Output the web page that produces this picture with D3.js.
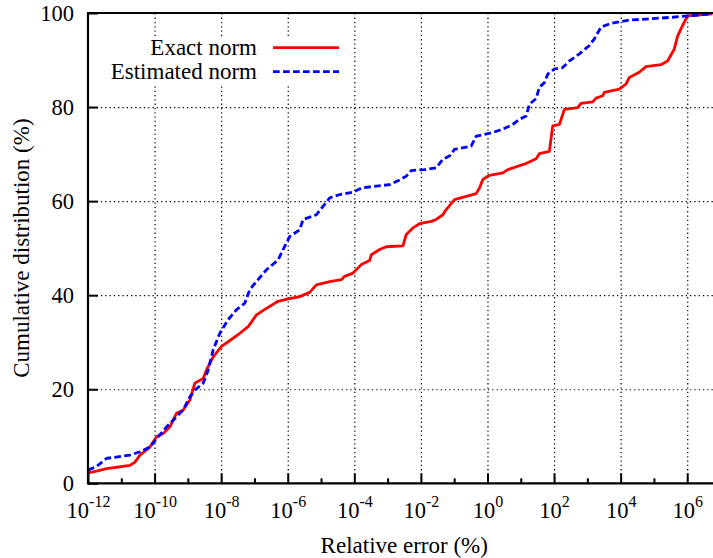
<!DOCTYPE html>
<html>
<head>
<meta charset="utf-8">
<script src="https://cdn.jsdelivr.net/npm/d3@7"></script>
<style>
  body { margin: 0; background: #fff; }
  svg text { font-family: "Liberation Serif", "Times New Roman", serif; fill: #000; }
</style>
</head>
<body>
<div id="cdf-chart"></div>
<script>
// relative error (log10 of %) and cumulative distribution (%)
const exactLogErr = [-12.00, -11.74, -11.44, -10.74, -10.59, -10.44, -10.14, -9.94, -9.74, -9.54,
  -9.34, -9.14, -8.94, -8.79, -8.54, -8.44, -8.24, -7.99, -7.79, -7.44,
  -7.19, -6.94, -6.64, -6.29, -5.99, -5.64, -5.34, -5.14, -4.74, -4.39,
  -4.29, -4.04, -3.79, -3.54, -3.49, -3.24, -3.04, -2.54, -2.44, -2.24,
  -2.04, -1.69, -1.54, -1.34, -1.24, -0.99, -0.64, -0.34, -0.24, -0.14,
  0.06, 0.46, 0.61, 1.16, 1.46, 1.56, 1.86, 1.96, 2.16, 2.31,
  2.71, 2.81, 3.16, 3.26, 3.46, 3.51, 3.96, 4.16, 4.26, 4.56,
  4.76, 5.21, 5.41, 5.61, 5.71, 5.86, 6.01, 6.75];
const exactCdf = [2.2, 2.6, 3.1, 3.8, 4.5, 6.0, 7.7, 9.9, 10.6, 12.0,
  14.9, 15.6, 17.7, 21.3, 22.3, 24.1, 26.9, 29.1, 30.1, 31.9,
  33.3, 35.8, 37.2, 38.7, 39.2, 39.7, 40.6, 42.2, 42.9, 43.3,
  44.0, 44.7, 46.5, 47.4, 48.6, 49.7, 50.3, 50.5, 52.9, 54.3,
  55.2, 55.7, 56.1, 57.1, 58.2, 60.3, 61.0, 61.6, 62.8, 64.6,
  65.5, 66.0, 66.7, 68.0, 69.0, 70.1, 70.6, 76.0, 76.3, 79.5,
  79.9, 80.8, 81.1, 81.9, 82.4, 83.1, 83.8, 84.9, 86.3, 87.4,
  88.6, 89.0, 89.8, 92.3, 95.1, 97.3, 99.4, 99.8];

const estLogErr = [-12.00, -11.74, -11.44, -10.74, -10.44, -10.14, -9.89, -9.64, -9.39, -9.14,
  -8.94, -8.79, -8.54, -8.39, -8.24, -8.04, -7.79, -7.54, -7.29, -7.14,
  -6.94, -6.64, -6.29, -6.14, -5.94, -5.64, -5.54, -5.14, -4.94, -4.74,
  -4.44, -4.04, -3.79, -3.34, -2.94, -2.64, -2.44, -2.29, -1.89, -1.54,
  -1.34, -1.14, -0.99, -0.49, -0.34, 0.16, 0.46, 0.76, 0.96, 1.16,
  1.26, 1.46, 1.56, 1.71, 1.81, 2.01, 2.26, 2.46, 2.76, 3.06,
  3.21, 3.41, 3.71, 4.01, 4.26, 4.76, 5.56, 6.01, 6.75];
const estCdf = [2.8, 3.6, 5.3, 6.0, 6.7, 7.7, 9.9, 12.0, 13.8, 15.6,
  18.4, 19.8, 21.3, 24.1, 28.4, 31.9, 34.8, 36.9, 38.3, 41.2,
  42.9, 45.4, 47.5, 49.7, 52.5, 53.9, 56.1, 57.1, 58.9, 60.7,
  61.4, 61.9, 62.8, 63.2, 63.5, 64.5, 65.3, 66.5, 66.7, 67.1,
  68.9, 69.6, 71.0, 71.7, 73.8, 74.6, 75.3, 76.3, 77.4, 78.1,
  80.6, 81.8, 84.2, 85.2, 87.0, 88.1, 88.4, 89.8, 91.3, 93.1,
  94.5, 97.0, 97.8, 98.2, 98.5, 98.7, 99.1, 99.4, 99.8];

const seriesNames = ["Exact norm", "Estimated norm"];
const majorExps = [-12, -10, -8, -6, -4, -2, 0, 2, 4, 6];
const minorExps = [-11, -9, -7, -5, -3, -1, 1, 3, 5];
const yTicks = [0, 20, 40, 60, 80, 100];

// set dimensions and margins
const margin = { top: 13, left: 88 };
const width = 19 * 33.29;      // ten to the -12 .. ten to the 7, right part cut off by the window
const height = 470.3;
const serif = "Liberation Serif, Times New Roman, serif";

const svg = d3.select("#cdf-chart")
  .append("svg")
    .attr("width", 713)
    .attr("height", 558)
    .attr("font-family", serif)
  .append("g")
    .attr("transform", "translate(" + margin.left + "," + margin.top + ")");

const x = d3.scaleLog().domain([1e-12, 1e7]).range([0, width]);
const y = d3.scaleLinear().domain([0, 100]).range([height, 0]);

const exactData = exactLogErr.map((e, i) => ({ err: Math.pow(10, e), cdf: exactCdf[i] }));
const estData = estLogErr.map((e, i) => ({ err: Math.pow(10, e), cdf: estCdf[i] }));

// dotted grid
svg.append("g")
  .attr("transform", "translate(0," + height + ")")
  .call(d3.axisBottom(x)
    .tickValues(majorExps.slice(1).map(e => Math.pow(10, e)))
    .tickSize(-height).tickFormat(""))
  .call(g => g.select(".domain").remove())
  .selectAll("line")
    .attr("stroke", "#000")
    .attr("stroke-width", 1.2)
    .attr("stroke-dasharray", "1.3,3");

svg.append("g")
  .call(d3.axisLeft(y)
    .tickValues(yTicks.slice(1, -1))
    .tickSize(-width).tickFormat(""))
  .call(g => g.select(".domain").remove())
  .selectAll("line")
    .attr("stroke", "#000")
    .attr("stroke-width", 1.2)
    .attr("stroke-dasharray", "1.3,3");

// curves
const line = d3.line()
  .x(d => x(d.err))
  .y(d => y(d.cdf));

svg.append("path")
  .datum(exactData)
  .attr("fill", "none")
  .attr("stroke", "#ff0000")
  .attr("stroke-width", 2.8)
  .attr("stroke-linejoin", "round")
  .attr("d", line);

svg.append("path")
  .datum(estData)
  .attr("fill", "none")
  .attr("stroke", "#0000ff")
  .attr("stroke-width", 2.8)
  .attr("stroke-dasharray", "6.7,3.3")
  .attr("d", line);

// x axis: major and minor ticks inside
const xAxis = svg.append("g")
  .attr("transform", "translate(0," + height + ")")
  .call(d3.axisBottom(x)
    .tickValues(majorExps.map(e => Math.pow(10, e)))
    .tickSize(-10).tickSizeOuter(0).tickFormat(""));
xAxis.select(".domain").remove();
xAxis.selectAll("line").attr("stroke-width", 2);

xAxis.selectAll(".tick").each(function(d) {
  const t = d3.select(this).append("text")
    .attr("y", 34.4)
    .attr("text-anchor", "middle")
    .attr("font-family", serif)
    .attr("font-size", "22.5px");
  t.append("tspan").text("10");
  t.append("tspan")
    .attr("dy", -11)
    .attr("font-size", "16px")
    .text(Math.round(Math.log10(d)));
});

svg.append("g")
  .attr("transform", "translate(0," + height + ")")
  .call(d3.axisBottom(x)
    .tickValues(minorExps.map(e => Math.pow(10, e)))
    .tickSize(-5).tickSizeOuter(0).tickFormat(""))
  .call(g => g.select(".domain").remove())
  .selectAll("line").attr("stroke-width", 2);

// y axis
const yAxis = svg.append("g")
  .call(d3.axisLeft(y)
    .tickValues(yTicks)
    .tickSize(-10).tickSizeOuter(0).tickPadding(14));
yAxis.select(".domain").remove();
yAxis.selectAll("line").attr("stroke-width", 2);
yAxis.selectAll("text")
  .attr("font-family", serif)
  .attr("font-size", "22.5px")
  .attr("fill", "#000");

// frame (left, bottom, top)
svg.append("path")
  .attr("fill", "none")
  .attr("stroke", "#000")
  .attr("stroke-width", 2.2)
  .attr("d", "M" + width + ",0H0V" + height + "H" + width);

// key with opaque background
const key = svg.append("g");
key.append("rect")
  .attr("x", 12).attr("y", 24)
  .attr("width", 245).attr("height", 47)
  .attr("fill", "#fff");

const keyStyles = [
  { color: "#ff0000", dash: null },
  { color: "#0000ff", dash: "6.7,3.3" }
];
seriesNames.forEach((name, i) => {
  const yy = 34.7 + i * 24;
  key.append("text")
    .attr("x", 169)
    .attr("y", yy + 7.5)
    .attr("text-anchor", "end")
    .attr("font-size", "23px")
    .text(name);
  key.append("line")
    .attr("x1", 185).attr("x2", 251)
    .attr("y1", yy).attr("y2", yy)
    .attr("stroke", keyStyles[i].color)
    .attr("stroke-width", 2.8)
    .attr("stroke-dasharray", keyStyles[i].dash);
});

// axis titles
svg.append("text")
  .attr("x", width / 2)
  .attr("y", 540)
  .attr("text-anchor", "middle")
  .attr("font-size", "23px")
  .text("Relative error (%)");

svg.append("text")
  .attr("transform", "translate(" + (-59) + "," + (height / 2) + ") rotate(-90)")
  .attr("text-anchor", "middle")
  .attr("font-size", "23px")
  .text("Cumulative distribution (%)");
</script>
</body>
</html>
